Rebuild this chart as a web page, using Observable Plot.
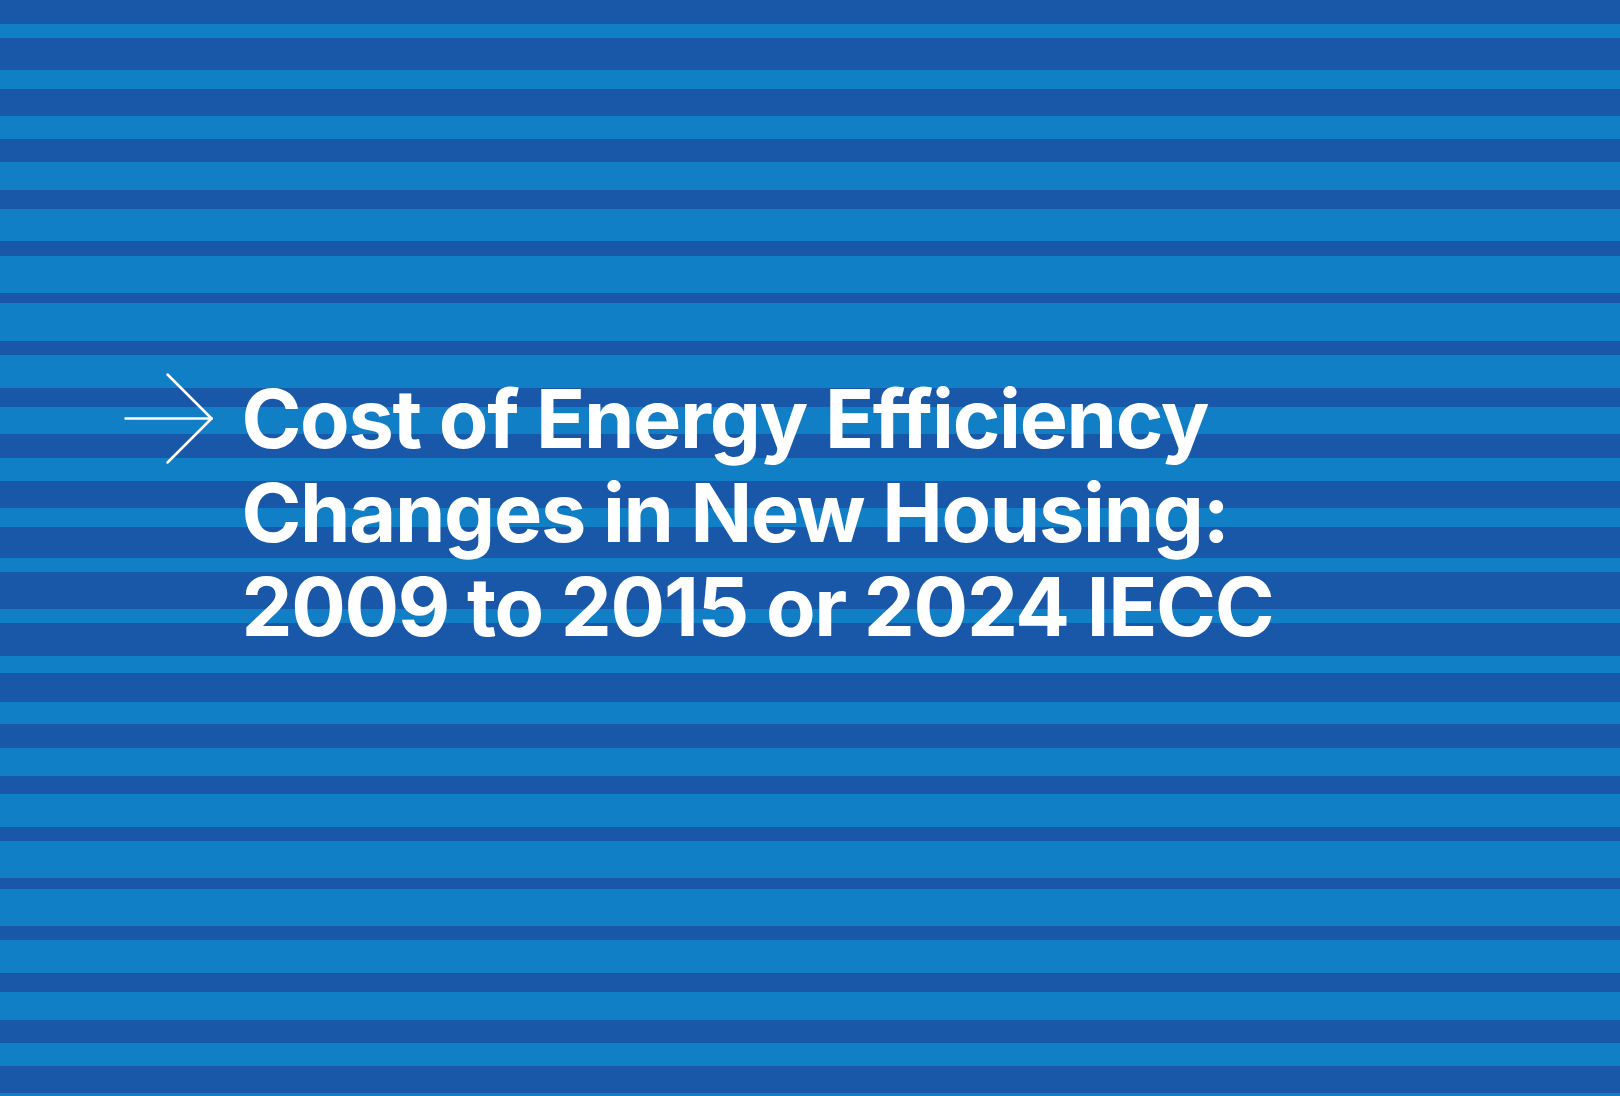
<!DOCTYPE html>
<html>
<head>
<meta charset="utf-8">
<script src="https://cdn.jsdelivr.net/npm/d3@7"></script>
<script src="https://cdn.jsdelivr.net/npm/@observablehq/plot@0.6"></script>
<style>
  html, body { margin: 0; padding: 0; background: #1957a9; overflow: hidden; }
  #chart svg { display: block; }
  #chart text { letter-spacing: -1.3px; }
</style>
</head>
<body>
<div id="chart"></div>
<script>
const stripeTop    = [0, 24, 38, 70, 89, 116, 139, 162, 190, 209, 241, 256, 293, 303, 341, 355, 388, 407, 434, 458, 481, 508, 527, 558, 572, 609, 623, 656, 673, 702, 724, 748, 776, 794, 827, 841, 878, 889, 926, 940, 973, 992, 1020, 1043, 1066, 1093];
const stripeBottom = [24, 38, 70, 89, 116, 139, 162, 190, 209, 241, 256, 293, 303, 341, 355, 388, 407, 434, 458, 481, 508, 527, 558, 572, 609, 623, 656, 673, 702, 724, 748, 776, 794, 827, 841, 878, 889, 926, 940, 973, 992, 1020, 1043, 1066, 1093, 1096];
const stripeTone   = stripeTop.map((_, i) => (i % 2 === 0 ? "dark" : "light"));

const titleLines = [
  "Cost of Energy Efficiency",
  "Changes in New Housing:",
  "2009 to 2015 or 2024 IECC"
];

const W = 1620, H = 1096;
const stripes = stripeTop.map((t, i) => ({y1: t, y2: stripeBottom[i], tone: stripeTone[i]}));

const textX = 241, firstBaseline = 447, lineGap = 94;
const titleData = titleLines.map((t, i) => ({text: t, x: textX, y: firstBaseline + i * lineGap}));

// arrow glyph: shaft + two wings
const ax = 125, ay = 418, tipX = 211, wing = 44;
const arrowSegs = [
  {x1: ax, y1: ay, x2: tipX, y2: ay},
  {x1: tipX - wing, y1: ay - wing, x2: tipX, y2: ay},
  {x1: tipX - wing, y1: ay + wing, x2: tipX, y2: ay}
];

const chart = Plot.plot({
  width: W,
  height: H,
  margin: 0,
  x: {domain: [0, W], range: [0, W], axis: null},
  y: {domain: [0, H], range: [0, H], axis: null},
  color: {domain: ["dark", "light"], range: ["#1957a9", "#107fc6"]},
  style: {background: "#1957a9"},
  marks: [
    Plot.rect(stripes, {x1: 0, x2: W, y1: "y1", y2: "y2", fill: "tone"}),
    Plot.link(arrowSegs, {x1: "x1", y1: "y1", x2: "x2", y2: "y2", stroke: "white", strokeWidth: 2.5, strokeLinecap: "round"}),
    Plot.text(titleData, {
      x: "x", y: "y", text: "text",
      textAnchor: "start", lineAnchor: "bottom",
      fill: "white", fontSize: 81, fontWeight: 700,
      fontFamily: "Inter, 'Open Sans', sans-serif"
    })
  ]
});
document.getElementById("chart").appendChild(chart);
</script>
</body>
</html>
